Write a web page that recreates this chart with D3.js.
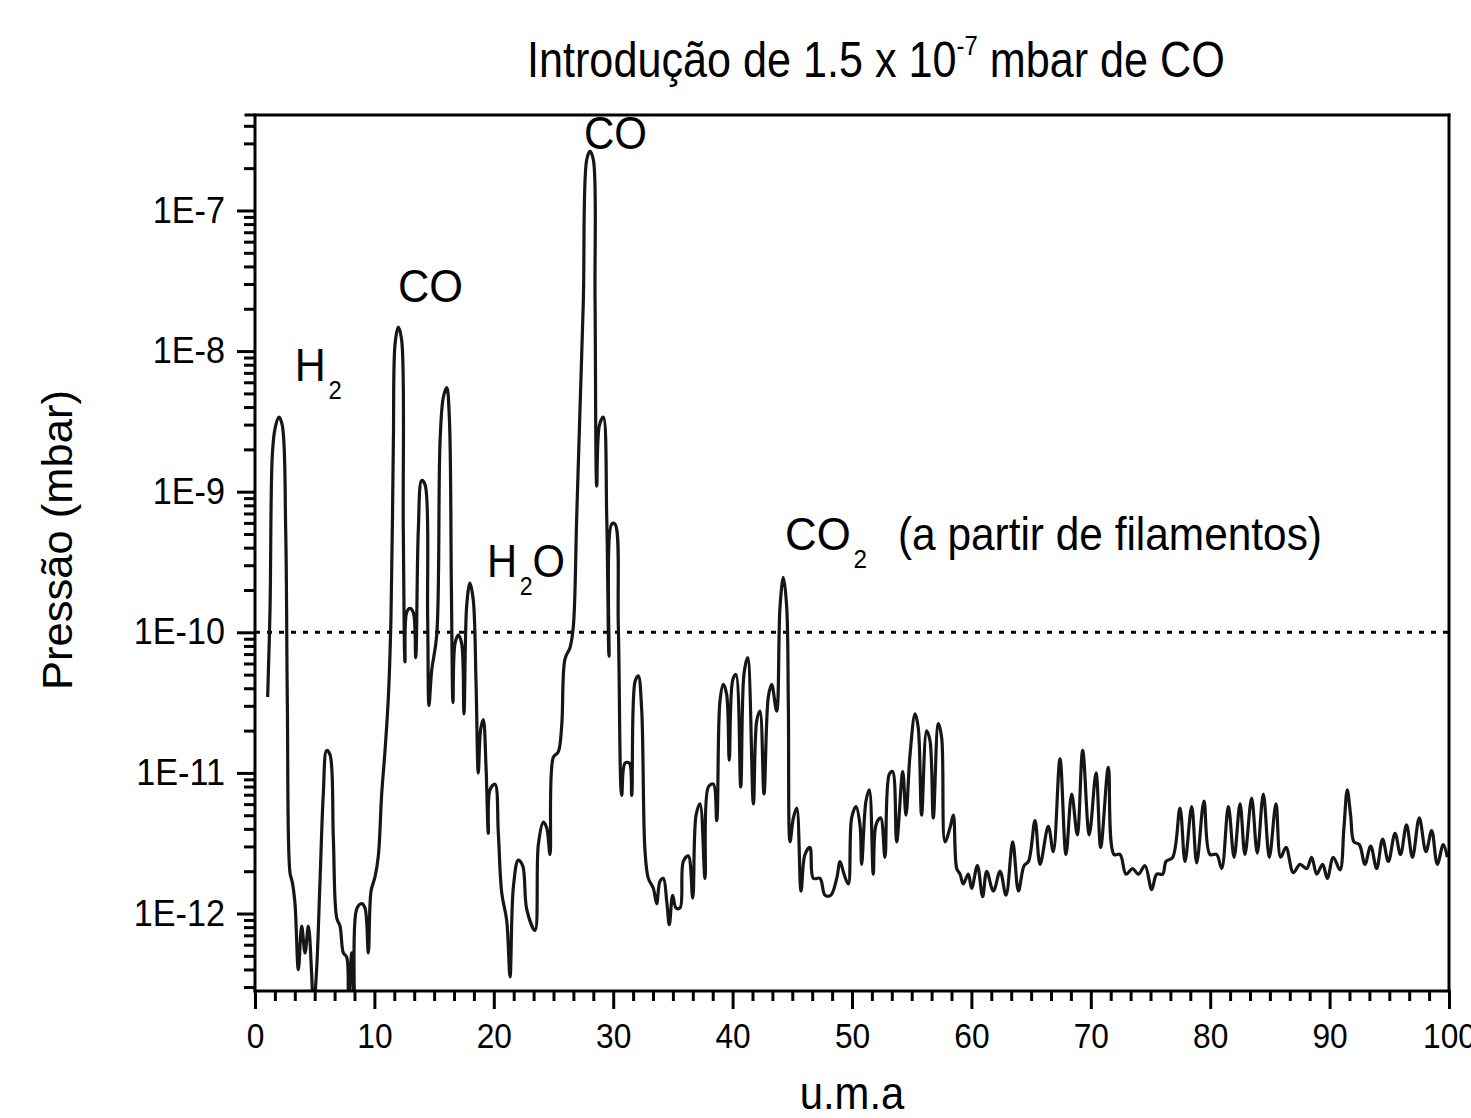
<!DOCTYPE html>
<html><head><meta charset="utf-8">
<script src="https://cdn.jsdelivr.net/npm/d3@7"></script>
<style>
body{margin:0;background:#fff}
text{font-family:"Liberation Sans",Arial,Helvetica,sans-serif;fill:#000;white-space:pre}
</style>
</head><body>
<svg id="c" width="1471" height="1118"></svg>
<script>
// ---- data (mass in u.m.a, log10 of pressure in mbar) ----
const massUma = [1.06,1.26,1.45,1.68,2.01,2.29,2.57,2.71,2.93,3.13,3.35,3.63,3.91,4.19,4.47,4.75,4.89,5.16,5.44,5.72,6.00,6.28,6.56,6.84,7.12,7.40,7.68,7.82,8.10,8.32,8.51,8.93,9.21,9.49,9.72,10.05,10.33,10.61,10.89,11.17,11.39,11.59,11.73,12.00,12.28,12.42,12.56,12.70,12.98,13.26,13.46,13.68,13.96,14.24,14.46,14.57,14.80,15.22,15.50,15.77,16.06,16.28,16.45,16.58,16.75,17.03,17.31,17.50,17.73,18.00,18.28,18.51,18.70,18.90,19.12,19.35,19.54,19.68,20.10,20.38,20.66,21.08,21.36,21.64,22.05,22.42,22.76,23.45,23.73,24.15,24.43,24.71,24.98,25.40,25.69,25.96,26.38,26.66,26.94,27.22,27.50,27.78,28.06,28.34,28.48,28.62,28.84,29.17,29.46,29.65,29.87,30.15,30.43,30.71,30.99,31.35,31.55,31.83,32.10,32.38,32.66,32.94,33.36,33.64,33.92,34.20,34.48,34.70,34.98,35.26,35.60,35.87,36.29,36.66,36.94,37.27,37.69,37.97,38.39,38.67,38.94,39.22,39.50,39.72,40.01,40.28,40.68,40.95,41.26,41.74,42.02,42.29,42.63,42.99,43.27,43.69,43.97,44.25,44.53,44.67,44.81,45.09,45.37,45.73,46.06,46.48,46.76,47.32,47.74,48.22,48.72,49.00,49.33,49.69,49.97,50.33,50.67,50.81,51.17,51.45,51.78,52.01,52.40,52.76,53.12,53.40,53.74,54.25,54.52,54.86,55.28,55.55,55.83,56.25,56.53,56.81,57.23,57.51,57.79,58.21,58.49,58.77,59.05,59.32,59.74,60.02,60.50,60.94,61.28,61.84,62.40,62.90,63.46,63.94,64.41,64.78,65.33,65.75,66.44,66.86,67.42,67.92,68.40,68.87,69.32,69.87,70.44,70.83,71.47,71.94,72.45,72.95,73.50,73.98,74.54,75.10,75.52,76.02,76.30,76.86,77.47,77.89,78.45,78.87,79.48,79.98,80.54,80.96,81.52,82.00,82.50,82.91,83.47,83.94,84.45,84.95,85.51,85.90,86.35,86.96,87.52,88.08,88.50,88.92,89.42,89.81,90.31,90.87,91.20,91.48,91.76,92.04,92.49,92.96,93.44,93.94,94.44,94.92,95.48,95.94,96.44,96.94,97.51,98.07,98.55,99.02,99.52,99.86];
const log10Pressure = [-10.46,-9.83,-8.74,-8.55,-8.47,-8.53,-9.27,-10.52,-11.71,-11.78,-11.93,-12.40,-12.09,-12.28,-12.09,-12.44,-12.70,-12.40,-11.78,-11.15,-10.84,-10.87,-11.46,-12.03,-12.09,-12.28,-12.31,-12.70,-12.28,-12.70,-11.97,-11.93,-11.96,-12.28,-11.84,-11.74,-11.59,-11.15,-10.84,-10.46,-9.89,-8.64,-7.95,-7.83,-7.92,-9.27,-10.21,-9.86,-9.83,-9.86,-10.18,-9.27,-8.92,-8.95,-9.89,-10.52,-10.27,-10.02,-8.64,-8.33,-8.26,-8.48,-9.70,-10.50,-10.08,-10.02,-10.08,-10.58,-9.81,-9.65,-9.77,-10.35,-11.00,-10.69,-10.62,-10.96,-11.43,-11.12,-11.08,-11.43,-11.85,-12.05,-12.45,-11.81,-11.62,-11.66,-11.97,-12.12,-11.51,-11.35,-11.39,-11.58,-10.89,-10.85,-10.66,-10.19,-10.11,-9.96,-9.19,-8.41,-7.64,-6.64,-6.58,-6.64,-7.64,-8.96,-8.53,-8.47,-9.19,-10.17,-9.23,-9.23,-9.96,-11.16,-10.93,-10.93,-11.16,-10.35,-10.31,-10.54,-11.55,-11.75,-11.82,-11.93,-11.77,-11.75,-11.91,-12.08,-11.87,-11.96,-11.96,-11.63,-11.59,-11.89,-11.30,-11.22,-11.75,-11.10,-11.08,-11.34,-10.49,-10.37,-10.44,-10.91,-10.34,-10.30,-11.10,-10.30,-10.18,-11.22,-10.63,-10.56,-11.15,-10.46,-10.37,-10.56,-9.82,-9.61,-9.82,-10.53,-11.49,-11.32,-11.25,-11.84,-11.58,-11.53,-11.75,-11.75,-11.87,-11.87,-11.75,-11.63,-11.72,-11.79,-11.32,-11.24,-11.37,-11.65,-11.20,-11.12,-11.72,-11.37,-11.32,-11.60,-11.01,-10.99,-11.49,-10.99,-11.30,-10.87,-10.58,-10.68,-11.30,-10.70,-10.77,-11.32,-10.65,-10.75,-11.49,-11.39,-11.30,-11.68,-11.72,-11.79,-11.72,-11.82,-11.66,-11.88,-11.70,-11.84,-11.70,-11.87,-11.49,-11.84,-11.66,-11.63,-11.34,-11.65,-11.38,-11.56,-10.90,-11.58,-11.15,-11.44,-10.84,-11.44,-11.00,-11.53,-10.96,-11.58,-11.58,-11.72,-11.68,-11.72,-11.66,-11.83,-11.72,-11.72,-11.63,-11.60,-11.25,-11.63,-11.24,-11.64,-11.20,-11.58,-11.58,-11.68,-11.24,-11.60,-11.22,-11.58,-11.18,-11.57,-11.15,-11.60,-11.22,-11.60,-11.53,-11.71,-11.65,-11.68,-11.60,-11.72,-11.65,-11.75,-11.60,-11.69,-11.39,-11.12,-11.30,-11.49,-11.51,-11.65,-11.52,-11.68,-11.47,-11.63,-11.43,-11.58,-11.37,-11.60,-11.32,-11.56,-11.41,-11.65,-11.51,-11.60];

const xMajorTicks = [0,10,20,30,40,50,60,70,80,90,100];
const xTickLabels = ["0","10","20","30","40","50","60","70","80","90","100"];
const yMajorTicks = [1e-12,1e-11,1e-10,1e-9,1e-8,1e-7];
const yTickLabels = ["1E-12","1E-11","1E-10","1E-9","1E-8","1E-7"];
const referenceLevel = 1e-10;
const annotations = [
  {parts:[["H",0],["2",1]], m:3.33, w:47, by:381},
  {parts:[["CO",0]], m:11.98, w:65, by:302},
  {parts:[["CO",0]], m:27.55, w:63, by:149},
  {parts:[["H",0],["2",1],["O",0]], m:19.43, w:78, by:577},
  {parts:[["CO",0],["2",1]], m:44.39, w:82, by:550},
  {parts:[["(a partir de filamentos)",0]], m:53.85, w:424, by:550}
];

// ---- layout ----
const L=255, R=1449, T=115, B=991;
const svg = d3.select("#c");
const x = d3.scaleLinear().domain([0,100]).range([L,R]);
const y = d3.scaleLog().domain([Math.pow(10,-12.551), Math.pow(10,-6.321)]).range([B,T]);
const data = massUma.map((m,i)=>({m, p:Math.pow(10, log10Pressure[i])}));

function condense(sel, px, py, targetW, extra){
  const w = sel.node().getBBox().width;
  const s = targetW / w;
  sel.attr("transform", `translate(${px},${py})${extra||""} scale(${s},1)`);
}

// clip
svg.append("clipPath").attr("id","clip").append("rect")
  .attr("x",L).attr("y",T).attr("width",R-L).attr("height",B-T);

// reference dashed line
svg.append("line").attr("x1",L).attr("x2",R).attr("y1",y(referenceLevel)).attr("y2",y(referenceLevel))
  .attr("stroke","#000").attr("stroke-width",3).attr("stroke-dasharray","5,7");

// curve
svg.append("path").datum(data).attr("clip-path","url(#clip)")
  .attr("fill","none").attr("stroke","#161616").attr("stroke-width",3.2).attr("stroke-linejoin","round")
  .attr("d", d3.line().x(d=>x(d.m)).y(d=>y(d.p)).curve(d3.curveCatmullRom.alpha(0.5)));

// y axis: minor + major
const yMinor = [];
for (let e=-13;e<=-7;e++) for (let k=2;k<=9;k++){ const v=k*Math.pow(10,e); if (v>=y.domain()[0] && v<=y.domain()[1]) yMinor.push(v); }
const gyMin = svg.append("g").attr("transform",`translate(${L},0)`)
  .call(d3.axisLeft(y).tickValues(yMinor).tickSize(11).tickFormat(""));
const gy = svg.append("g").attr("transform",`translate(${L},0)`)
  .call(d3.axisLeft(y).tickValues(yMajorTicks).tickSize(18).tickFormat((d,i)=>yTickLabels[i]));
[gyMin,gy].forEach(g=>{ g.select(".domain").remove(); g.selectAll("line").attr("stroke","#000").attr("stroke-width",3); });
gy.selectAll("text").attr("font-size",36).attr("font-family",null).attr("x",0).attr("dy","0.32em")
  .attr("transform","translate(-30,0) scale(0.95,1)");

// x axis: minor + major
const xMinor = [];
for (let i=0;i<=60;i++){ if (i%6!==0) xMinor.push(i*10/6); }
const gxMin = svg.append("g").attr("transform",`translate(0,${B})`)
  .call(d3.axisBottom(x).tickValues(xMinor).tickSize(10).tickFormat(""));
const gx = svg.append("g").attr("transform",`translate(0,${B})`)
  .call(d3.axisBottom(x).tickValues(xMajorTicks).tickSize(18).tickFormat((d,i)=>xTickLabels[i]));
[gxMin,gx].forEach(g=>{ g.select(".domain").remove(); g.selectAll("line").attr("stroke","#000").attr("stroke-width",3); });
gx.selectAll("text").attr("font-size",36).attr("font-family",null).attr("y",31).attr("dy","0.71em")
  .attr("transform","scale(0.88,1)");

// frame
const frame = svg.append("g").attr("stroke","#000").attr("stroke-width",3).attr("stroke-linecap","square");
frame.append("line").attr("x1",246).attr("x2",R).attr("y1",T).attr("y2",T);
frame.append("line").attr("x1",L).attr("x2",R).attr("y1",B).attr("y2",B);
frame.append("line").attr("x1",L).attr("x2",L).attr("y1",T).attr("y2",B);
frame.append("line").attr("x1",R).attr("x2",R).attr("y1",T).attr("y2",B);

// title
const title = svg.append("text").attr("font-size",49);
title.append("tspan").text("Introdução de 1.5 x 10");
title.append("tspan").attr("font-size",27).attr("dy",-22).text("-7");
title.append("tspan").attr("dy",22).text(" mbar de CO");
condense(title, 527, 77, 698);

// axis titles
const yt = svg.append("text").attr("font-size",42).attr("text-anchor","middle").text("Pressão (mbar)");
condense(yt, 72, 540, 300, " rotate(-90)");
const xt = svg.append("text").attr("font-size",46).attr("text-anchor","middle").text("u.m.a");
condense(xt, 852, 1109, 105);

// peak annotations
annotations.forEach(a=>{
  const t = svg.append("text").attr("font-size",47);
  let sub = false;
  a.parts.forEach(([s,isSub])=>{
    const ts = t.append("tspan").text(s);
    if (isSub && !sub){ ts.attr("font-size",26).attr("dy",18); sub=true; }
    else if (!isSub && sub){ ts.attr("dy",-18); sub=false; }
    if (isSub) ts.attr("dx",3);
  });
  condense(t, x(a.m), a.by, a.w);
});
</script>
</body></html>
